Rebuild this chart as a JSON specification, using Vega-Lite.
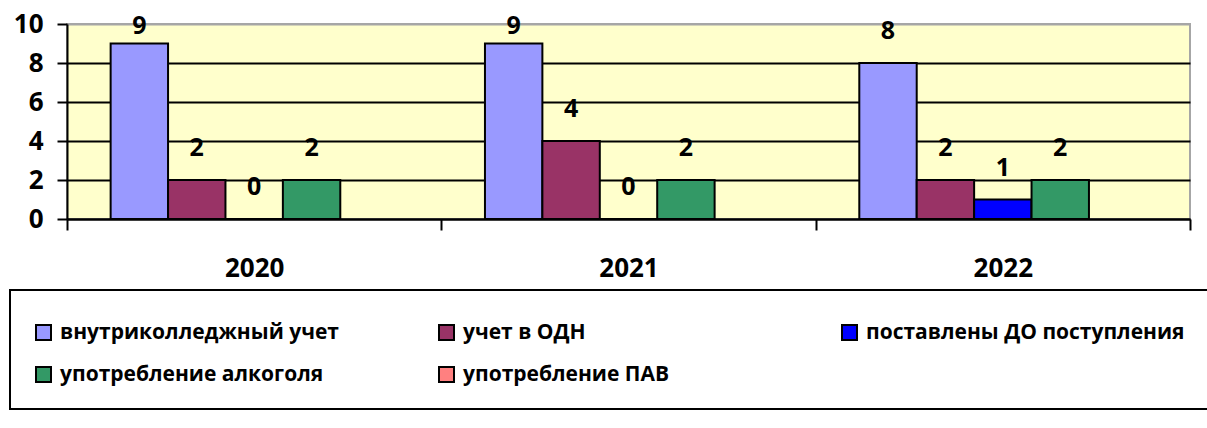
{
  "$schema": "https://vega.github.io/schema/vega-lite/v6.json",
  "width": 1123,
  "height": 195,
  "autosize": {"type": "none"},
  "padding": {"left": 67, "top": 24, "right": 17, "bottom": 209},
  "background": "white",
  "config": {
    "font": "Open Sans",
    "view": {"fill": "#FFFFCC", "stroke": "#A6A6A6", "strokeWidth": 2},
    "legend": {"strokeWidth": 2}
  },
  "data": {
    "values": [
      {"year": "2020", "cat": "внутриколледжный учет", "value": 9},
      {"year": "2020", "cat": "учет в ОДН", "value": 2},
      {"year": "2020", "cat": "поставлены ДО поступления", "value": 0},
      {"year": "2020", "cat": "употребление алкоголя", "value": 2},
      {"year": "2020", "cat": "употребление ПАВ", "value": null},
      {"year": "2021", "cat": "внутриколледжный учет", "value": 9},
      {"year": "2021", "cat": "учет в ОДН", "value": 4},
      {"year": "2021", "cat": "поставлены ДО поступления", "value": 0},
      {"year": "2021", "cat": "употребление алкоголя", "value": 2},
      {"year": "2021", "cat": "употребление ПАВ", "value": null},
      {"year": "2022", "cat": "внутриколледжный учет", "value": 8},
      {"year": "2022", "cat": "учет в ОДН", "value": 2},
      {"year": "2022", "cat": "поставлены ДО поступления", "value": 1},
      {"year": "2022", "cat": "употребление алкоголя", "value": 2},
      {"year": "2022", "cat": "употребление ПАВ", "value": null}
    ]
  },
  "encoding": {
    "x": {
      "field": "year", "type": "nominal",
      "scale": {"paddingInner": 0, "paddingOuter": 0},
      "axis": {
        "title": null, "labelAngle": 0, "labelFontSize": 26, "labelFontWeight": "bold",
        "labelColor": "black", "tickBand": "extent", "tickSize": 11, "tickColor": "black",
        "tickWidth": 2, "domainColor": "black", "domainWidth": 2, "labelPadding": 25, "grid": false
      }
    },
    "xOffset": {
      "field": "cat", "type": "nominal",
      "sort": ["внутриколледжный учет", "учет в ОДН", "поставлены ДО поступления", "употребление алкоголя", "употребление ПАВ"],
      "scale": {"paddingInner": 0, "paddingOuter": 0.76}
    },
    "y": {
      "field": "value", "type": "quantitative",
      "scale": {"domain": [0, 10]},
      "axis": {
        "title": null, "values": [0, 2, 4, 6, 8, 10], "labelFontSize": 26, "labelFontWeight": "bold",
        "labelColor": "black", "tickSize": 10, "tickColor": "black", "tickWidth": 2,
        "domainColor": "black", "domainWidth": 2, "grid": true,
        "gridColor": {"condition": {"test": "datum.value == 10", "value": "#A6A6A6"}, "value": "black"},
        "gridWidth": 2, "labelPadding": 14
      }
    }
  },
  "layer": [
    {
      "mark": {"type": "bar", "stroke": "black", "strokeWidth": 2, "opacity": 1},
      "encoding": {
        "color": {
          "field": "cat", "type": "nominal",
          "scale": {
            "domain": ["внутриколледжный учет", "учет в ОДН", "поставлены ДО поступления", "употребление алкоголя", "употребление ПАВ"],
            "range": ["#9999FF", "#993366", "#0000FF", "#339966", "#FF8080"]
          },
          "legend": {
            "title": " ", "titleFontSize": 1, "titlePadding": 8,
            "orient": "none", "legendX": -57, "legendY": 266,
            "direction": "horizontal",
            "columns": 3, "gridAlign": "all", "columnPadding": 56, "rowPadding": 19,
            "labelFontSize": 21, "labelFontWeight": "bold", "labelColor": "black",
            "labelLimit": 600, "labelOffset": 6,
            "symbolType": "square", "symbolSize": 225, "symbolStrokeColor": "black",
            "symbolStrokeWidth": 2, "symbolOpacity": 1,
            "strokeColor": "black", "padding": 23
          }
        }
      }
    },
    {
      "transform": [{"filter": "datum.value != null && datum.value < 9"}],
      "mark": {"type": "text", "dy": -24, "baseline": "alphabetic", "fontWeight": "bold", "fontSize": 25, "color": "black"},
      "encoding": {"text": {"field": "value", "type": "quantitative"}}
    },
    {
      "transform": [{"filter": "datum.value != null && datum.value >= 9"}],
      "mark": {"type": "text", "dy": -10, "baseline": "alphabetic", "fontWeight": "bold", "fontSize": 25, "color": "black"},
      "encoding": {"text": {"field": "value", "type": "quantitative"}}
    }
  ]
}
